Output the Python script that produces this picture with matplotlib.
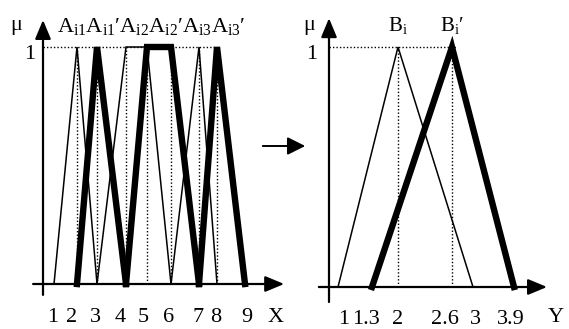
import matplotlib
matplotlib.use("Agg")
import matplotlib.pyplot as plt
import numpy as np

plt.rcParams["font.family"] = ["Liberation Serif", "DejaVu Serif"]
plt.rcParams["mathtext.fontset"] = "custom"
plt.rcParams["mathtext.rm"] = "Liberation Serif"
plt.rcParams["mathtext.it"] = "Liberation Serif"

# input fuzzy sets on X (breakpoints, membership)
a_i1_x = [1, 2, 3]
a_i1_mu = [0, 1, 0]
a_i1p_x = [2, 3, 4]
a_i1p_mu = [0, 1, 0]
a_i2_x = [3, 4, 5, 6]
a_i2_mu = [0, 1, 1, 0]
a_i2p_x = [4, 5, 6, 7]
a_i2p_mu = [0, 1, 1, 0]
a_i3_x = [6, 7, 8]
a_i3_mu = [0, 1, 0]
a_i3p_x = [7, 8, 9]
a_i3p_mu = [0, 1, 0]
x_peaks = [2, 3, 4, 5, 6, 7, 8]
x_ticks = [1, 2, 3, 4, 5, 6, 7, 8, 9]
x_tick_labels = ["1", "2", "3", "4", "5", "6", "7", "8", "9"]

# output fuzzy sets on Y
b_i_x = [1, 2, 3]
b_i_mu = [0, 1, 0]
b_ip_x = [1.3, 2.6, 3.9]
b_ip_mu = [0, 1, 0]
y_peaks = [2, 2.6]
y_ticks = [1, 1.3, 2, 2.6, 3, 3.9]
y_tick_labels = ["1", "1.3", "2", "2.6", "3", "3.9"]

W, H = 569, 329
fig = plt.figure(figsize=(W / 100, H / 100), dpi=100)

# schematic (non-uniform) axis spacing, as drawn in the original
left_vals = [-1, 0, 1, 2, 3, 4, 5, 6, 7, 8, 9, 10]
left_pix = [0, 43, 54, 77, 97, 126, 147, 171, 199, 217, 245, 290]
right_vals = [-1, 0, 1, 1.3, 2, 2.6, 3, 3.9, 5]
right_pix = [290, 329, 338, 372, 398, 452, 473, 514, 569]
# small horizontal nudges (points) of the typed tick labels
left_nudge = [-1, -4, -1, -4, -3, -2, -1, -1, 1]
right_nudge = [4, -4, 0, -5, 2, -2]


def make_axes(vals, pix, zero_px, one_px):
    ax = fig.add_axes([pix[0] / W, 0, (pix[-1] - pix[0]) / W, 1])
    ax.set_xscale("function",
                  functions=(lambda v: np.interp(v, vals, pix),
                             lambda p: np.interp(p, pix, vals)))
    ax.set_xlim(vals[0], vals[-1])
    s = zero_px - one_px
    b0 = H - zero_px
    ax.set_ylim(-b0 / s, (H - b0) / s)
    ax.axis("off")
    return ax


def axis_arrow(ax, start, end):
    ax.annotate("", xy=end, xytext=start,
                arrowprops=dict(arrowstyle="-|>,head_length=0.72,head_width=0.3",
                                mutation_scale=16, lw=1.6, color="black",
                                shrinkA=0, shrinkB=0))


def tick_labels(ax, ticks, labels, nudge):
    for t, lab, dx in zip(ticks, labels, nudge):
        ax.annotate(lab, xy=(t, 0), xytext=(dx, -27), textcoords="offset points",
                    fontsize=16, ha="center", va="baseline")


dot = dict(color="black", lw=1.0, linestyle=(0, (1, 1.5)))
thin = dict(color="black", lw=1.1, solid_joinstyle="miter")
thick = dict(color="black", lw=4.6, solid_joinstyle="miter")

# ---- left panel: X ----
ax1 = make_axes(left_vals, left_pix, 284, 47)
ax1.plot([0, max(x_peaks)], [1, 1], **dot)
for p in x_peaks:
    ax1.plot([p, p], [0, 1], **dot)
ax1.plot(a_i1_x, a_i1_mu, **thin)
ax1.plot(a_i2_x, a_i2_mu, **thin)
ax1.plot(a_i3_x, a_i3_mu, **thin)
ax1.plot(a_i1p_x, a_i1p_mu, **thick)
ax1.plot(a_i2p_x, a_i2p_mu, **thick)
ax1.plot(a_i3p_x, a_i3p_mu, **thick)
axis_arrow(ax1, (0, -0.046), (0, 1.114))
axis_arrow(ax1, (-0.23, 0), (9.87, 0))
tick_labels(ax1, x_ticks, x_tick_labels, left_nudge)
ax1.annotate("X", xy=(9.87, 0), xytext=(-6, -27), textcoords="offset points",
             fontsize=16, ha="center", va="baseline")
ax1.text(-0.62, 1.07, "μ", fontsize=16, ha="center", va="baseline")
ax1.text(-0.3, 0.97, "1", fontsize=16, ha="center", va="center")
ax1.text(1.15, 1.065,
         r"$\mathrm{A_{i1}A_{i1}}$′$\mathrm{A_{i2}A_{i2}}$′$\mathrm{A_{i3}A_{i3}}$′",
         fontsize=16, ha="left", va="baseline")

# ---- right panel: Y ----
ax2 = make_axes(right_vals, right_pix, 287, 47)
ax2.plot([0, 2.7], [1, 1], **dot)
for p in y_peaks:
    ax2.plot([p, p], [0, 1], **dot)
ax2.plot(b_i_x, b_i_mu, **thin)
ax2.plot(b_ip_x, b_ip_mu, **thick)
axis_arrow(ax2, (0, -0.0625), (0, 1.12))
axis_arrow(ax2, (-0.26, 0), (4.56, 0))
tick_labels(ax2, y_ticks, y_tick_labels, right_nudge)
ax2.annotate("Y", xy=(4.56, 0), xytext=(6, -25), textcoords="offset points",
             fontsize=16, ha="center", va="baseline")
ax2.text(-0.5, 1.07, "μ", fontsize=16, ha="center", va="baseline")
ax2.text(-0.45, 0.97, "1", fontsize=16, ha="center", va="center")
ax2.text(2, 1.065, r"$\mathrm{B_i}$", fontsize=15, ha="center", va="baseline")
ax2.text(2.6, 1.065, r"$\mathrm{B_i}$′", fontsize=15, ha="center", va="baseline")

# arrow between the two panels
fig.add_artist(matplotlib.patches.FancyArrowPatch(
    (260 / W, 1 - 146 / H), (308 / W, 1 - 146 / H), transform=fig.transFigure,
    arrowstyle="-|>,head_length=0.68,head_width=0.34", mutation_scale=16,
    lw=1.4, color="black"))

fig.savefig("out.png", dpi=100)
